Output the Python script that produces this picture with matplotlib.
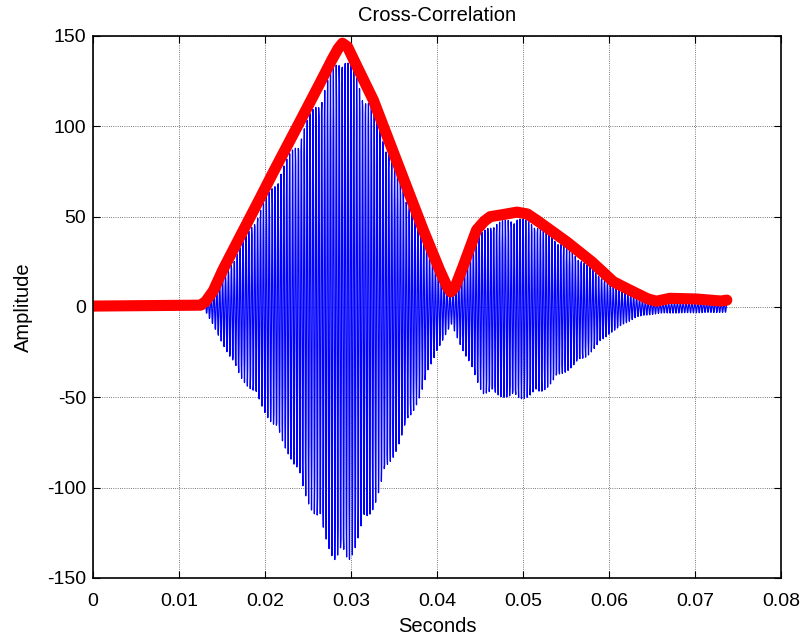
import numpy as np
import matplotlib.pyplot as plt

plt.rcParams['font.family'] = ['Liberation Sans', 'DejaVu Sans']
plt.rcParams['axes.unicode_minus'] = False

# red envelope (seconds, amplitude)
env_t = [0.0, 0.0125, 0.0131, 0.0140, 0.0151, 0.0170, 0.0194, 0.0209, 0.0241,
         0.0264, 0.0278, 0.0285, 0.0290, 0.0296, 0.0302, 0.0326, 0.0357, 0.0384,
         0.0403, 0.0412, 0.0416, 0.0421, 0.0430, 0.0446, 0.0455, 0.0462, 0.0475,
         0.0493, 0.0505, 0.0516, 0.0551, 0.0580, 0.0605, 0.0624, 0.0645, 0.0655,
         0.0671, 0.0702, 0.0730, 0.0737]
env_y = [0.5, 1.0, 3.0, 9.0, 20.5, 38, 60, 74, 103,
         124, 137, 143, 146, 144, 138, 114.5, 76, 42.6,
         20.5, 11, 8.3, 11, 22, 42.6, 47.5, 50, 51,
         52.5, 51.5, 48, 36, 25, 14, 9.4, 4.5, 3.2,
         4.8, 4.4, 3.3, 3.8]

# blue signal, positive peaks
up_t = [0.0127, 0.0151, 0.0194, 0.0241, 0.0264, 0.0290, 0.0326, 0.0357, 0.0384,
        0.0403, 0.0416, 0.0430, 0.0446, 0.0462, 0.0493, 0.0516, 0.0551, 0.0605,
        0.0651, 0.0702, 0.0737]
up_y = [0.5, 15, 54, 96, 118, 143, 110, 71, 38,
        16, 6, 18, 38, 46, 50, 46, 33, 11,
        1.5, 2.5, 2]

# blue signal, negative peaks
lo_t = [0.0127, 0.0130, 0.0171, 0.0191, 0.0229, 0.0244, 0.0281, 0.0297, 0.0324,
        0.0345, 0.0380, 0.0400, 0.0417, 0.0430, 0.0453, 0.0496, 0.0520, 0.0547,
        0.0574, 0.0601, 0.0632, 0.0659, 0.0737]
lo_y = [-0.5, -1.7, -38.7, -51, -83, -102, -141, -142, -114,
        -88, -50, -24, -10, -24, -48, -51.5, -48, -37,
        -27.6, -14.6, -5.5, -3.5, -3]

fs = 24000
f0 = 2950
t = np.arange(0.0127, 0.0737, 1 / fs)
carrier = np.cos(2 * np.pi * f0 * (t - 0.0127))
top = np.interp(t, up_t, up_y)
bot = np.interp(t, lo_t, lo_y)
sig = np.where(carrier >= 0, carrier * top, -carrier * bot)

fig = plt.figure(figsize=(8.03, 6.39), dpi=100)
ax = fig.add_axes([0.1158, 0.0955, 0.8568, 0.8482])

ax.plot(t, sig, color='b', linewidth=0.9)
ax.plot(env_t, env_y, color='r', linewidth=8, solid_capstyle='round',
        solid_joinstyle='round')

ax.set_xlim(0, 0.08)
ax.set_ylim(-150, 150)
ax.set_xticks(np.arange(0, 0.081, 0.01))
ax.set_xticklabels(['0', '0.01', '0.02', '0.03', '0.04', '0.05', '0.06', '0.07', '0.08'])
ax.set_yticks([-150, -100, -50, 0, 50, 100, 150])

ax.grid(True, linestyle=':', color='k', linewidth=0.6, alpha=0.7)
ax.tick_params(direction='in', length=5, top=True, right=True, labelsize=14, pad=5)
ax.tick_params(axis='x', pad=11)
for s in ax.spines.values():
    s.set_linewidth(1.2)

ax.set_title('Cross-Correlation', fontsize=14.5, pad=10.5)
ax.set_xlabel('Seconds', fontsize=14.5, labelpad=5)
ax.set_ylabel('Amplitude', fontsize=14.5, labelpad=10)

fig.savefig('out.png', dpi=100)
